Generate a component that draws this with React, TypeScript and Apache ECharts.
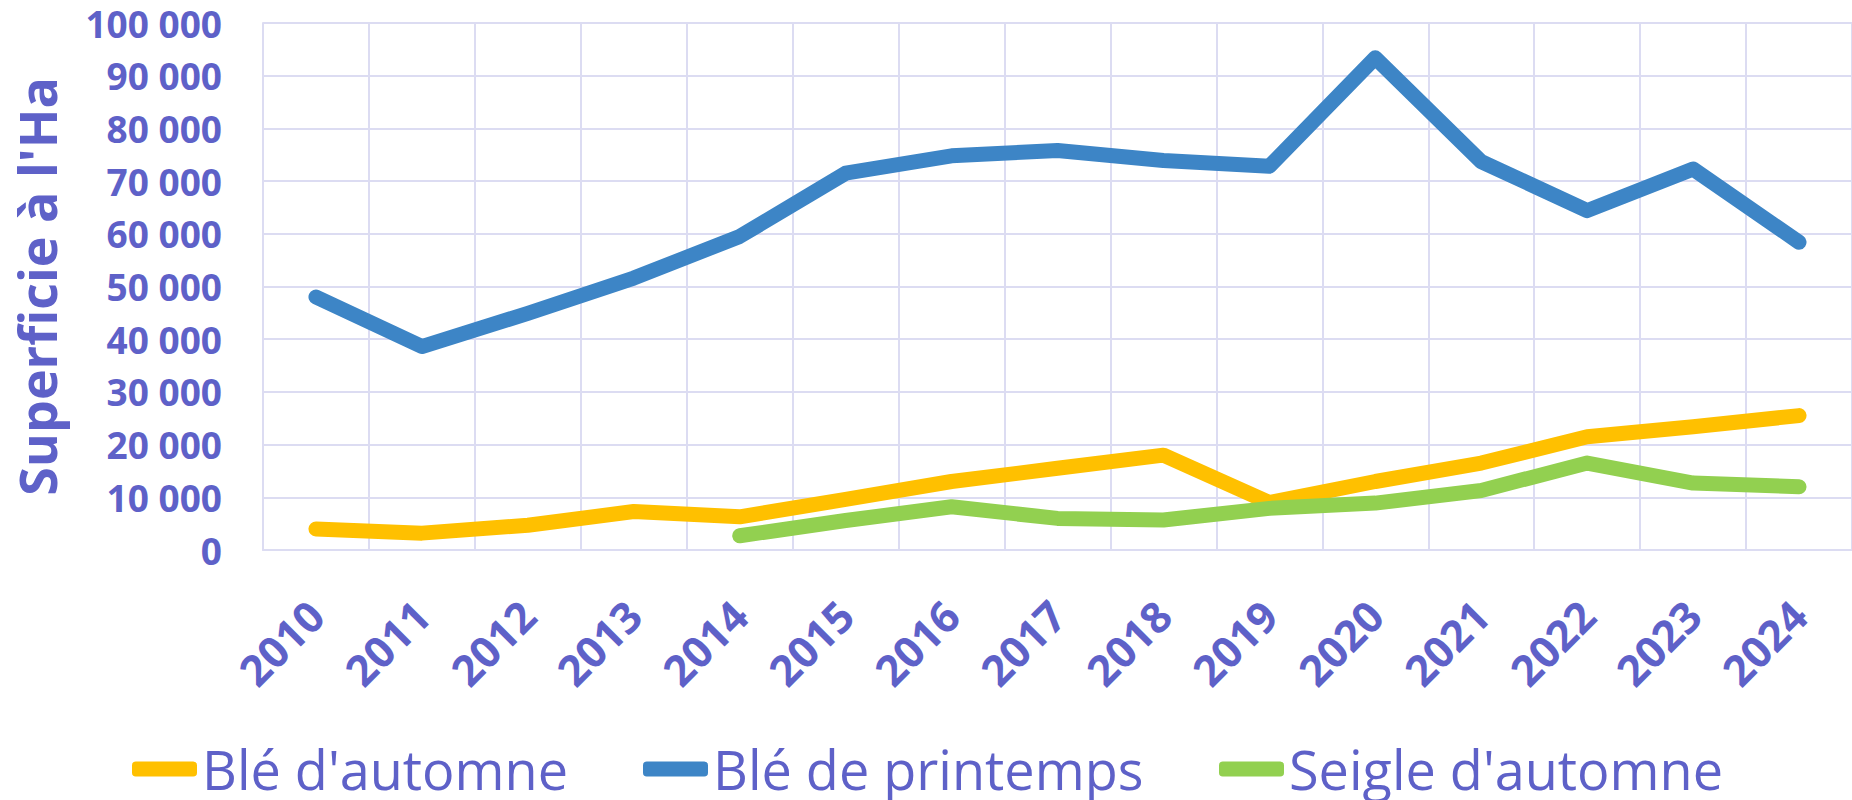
import React, { useEffect, useRef } from "react";
import * as echarts from "echarts";

const years = ["2010", "2011", "2012", "2013", "2014", "2015", "2016", "2017", "2018", "2019", "2020", "2021", "2022", "2023", "2024"];
const bleAutomne = [4000, 3200, 4700, 7300, 6300, 9600, 13000, 15500, 18000, 9000, 13000, 16500, 21500, 23400, 25500];
const blePrintemps = [48000, 38600, 44900, 51600, 59500, 71500, 74800, 75800, 73900, 72800, 93400, 73700, 64400, 72300, 58400];
const seigleAutomne = [null, null, null, null, 2700, 5600, 8200, 6000, 5700, 7900, 8900, 11300, 16500, 12700, 12000];

const seriesNames = ["Blé d'automne", "Blé de printemps", "Seigle d'automne"];
const seriesColors = ["#FFC000", "#3D85C6", "#92D050"];

const TEXT = "#5E61C8";
const GRID = "#DCDCF2";
const FONT = "'Open Sans', 'Noto Sans', sans-serif";

export default function App() {
  const ref = useRef<HTMLDivElement>(null);
  useEffect(() => {
    if (!ref.current) return;
    const chart = echarts.init(ref.current, undefined, { renderer: "svg" });
    const data = [bleAutomne, blePrintemps, seigleAutomne];
    const legendLefts = [132, 643, 1219];
    chart.setOption({
      animation: false,
      backgroundColor: "#ffffff",
      grid: { left: 263, top: 23, bottom: 250, right: -19, containLabel: false },
      legend: seriesNames.map((n, i) => ({
        data: [n],
        left: legendLefts[i],
        top: 741,
        padding: 0,
        icon: "roundRect",
        itemWidth: 65,
        itemHeight: 15,
        textStyle: { color: TEXT, fontSize: 54, fontFamily: FONT, lineHeight: 56, padding: [0, 0, 0, 0] },
      })),
      xAxis: {
        type: "category",
        data: years,
        boundaryGap: true,
        axisLine: { show: true, lineStyle: { color: GRID, width: 2 } },
        axisTick: { show: false },
        splitLine: { show: true, interval: 0, lineStyle: { color: GRID, width: 2 } },
        axisLabel: {
          interval: 0,
          rotate: 45,
          margin: 58,
          color: TEXT,
          fontSize: 43,
          fontWeight: "bold",
          fontFamily: FONT,
        },
      },
      yAxis: {
        type: "value",
        min: 0,
        max: 100000,
        interval: 10000,
        name: "Superficie à l'Ha",
        nameLocation: "middle",
        nameRotate: 90,
        nameGap: 201,
        nameTextStyle: { color: TEXT, fontSize: 52, fontWeight: "bold", fontFamily: FONT },
        axisLine: { show: true, lineStyle: { color: GRID, width: 2 } },
        axisTick: { show: false },
        splitLine: { show: true, lineStyle: { color: GRID, width: 2 } },
        axisLabel: {
          margin: 41,
          color: TEXT,
          fontSize: 37,
          lineHeight: 38,
          fontWeight: "bold",
          fontFamily: FONT,
          formatter: (v: number) => String(v).replace(/\B(?=(\d{3})+(?!\d))/g, " "),
        },
      },
      series: seriesNames.map((n, i) => ({
        name: n,
        type: "line",
        data: data[i],
        symbol: "none",
        connectNulls: false,
        color: seriesColors[i],
        lineStyle: { color: seriesColors[i], width: 15, cap: "round", join: "round" },
      })),
    });
    return () => chart.dispose();
  }, []);
  return <div ref={ref} style={{ position: "absolute", left: 0, top: 0, width: 1852, height: 800 }} />;
}
